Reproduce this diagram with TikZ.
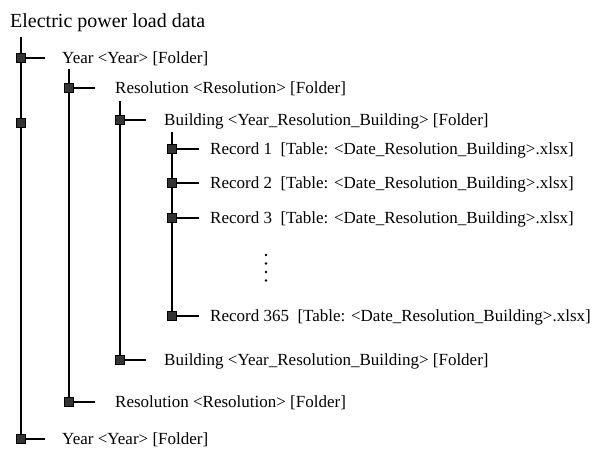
\documentclass[tikz,border=0pt]{standalone}
\usepackage{fontspec}
\setmainfont{Liberation Serif}
\usetikzlibrary{backgrounds}

\tikzset{
  box/.style={draw=black, fill=black!80, line width=0.6pt, minimum size=9.5pt, inner sep=0pt},
  trunk/.style={line width=2.8pt},
  stub/.style={line width=2pt},
  lbl/.style={anchor=base west, inner sep=0pt, font=\fontsize{17}{20}\selectfont},
}

\begin{document}
\begin{tikzpicture}[x=1pt,y=-1pt]
        \useasboundingbox (0,0) rectangle (593,448);

        % === TITLE ===
        \node[anchor=base west, inner sep=0pt, font=\fontsize{20}{24}\selectfont] (title) at (10,27.5) {Electric power load data};

        % === YEAR ===
        \coordinate (year-top) at (21,37);
        \node[box] (year1) at (21,58) {};
        \node[box] (year-mid) at (21,123) {};
        \node[box] (year2) at (21,439) {};
        \node[lbl] (year1-txt) at (62,63.5) {Year \textless Year\textgreater\ [Folder]};
        \node[lbl] (year2-txt) at (62,444.5) {Year \textless Year\textgreater\ [Folder]};
        \draw[stub, shorten >=17pt] (year1.east) -- (year1.east -| year1-txt.west);
        \draw[stub, shorten >=17pt] (year2.east) -- (year2.east -| year2-txt.west);

        % === RESOLUTION ===
        \coordinate (res-top) at (69,69);
        \node[box] (res1) at (69,88) {};
        \node[box] (res2) at (69,402) {};
        \node[lbl] (res1-txt) at (115,93.5) {Resolution \textless Resolution\textgreater\ [Folder]};
        \node[lbl] (res2-txt) at (115,407.5) {Resolution \textless Resolution\textgreater\ [Folder]};
        \draw[stub, shorten >=20pt] (res1.east) -- (res1.east -| res1-txt.west);
        \draw[stub, shorten >=20pt] (res2.east) -- (res2.east -| res2-txt.west);

        % === BUILDING ===
        \coordinate (bld-top) at (120,101);
        \node[box] (bld1) at (120,120) {};
        \node[box] (bld2) at (120,360) {};
        \node[lbl] (bld1-txt) at (164,125.5) {Building \textless Year\_Resolution\_Building\textgreater\ [Folder]};
        \node[lbl] (bld2-txt) at (164,365.5) {Building \textless Year\_Resolution\_Building\textgreater\ [Folder]};
        \draw[stub, shorten >=18pt] (bld1.east) -- (bld1.east -| bld1-txt.west);
        \draw[stub, shorten >=18pt] (bld2.east) -- (bld2.east -| bld2-txt.west);

        % === RECORDS ===
        \coordinate (rec-top) at (172,132);
        \node[box] (rec1) at (172,149) {};
        \node[box] (rec2) at (172,183) {};
        \node[box] (rec3) at (172,218) {};
        \node[box] (rec365) at (172,316) {};
        \node[lbl] (rec1-txt) at (210,154.5) {Record 1\ \ [Table: \textless Date\_Resolution\_Building\textgreater.xlsx]};
        \node[lbl] (rec2-txt) at (210,188.5) {Record 2\ \ [Table: \textless Date\_Resolution\_Building\textgreater.xlsx]};
        \node[lbl] (rec3-txt) at (210,223.5) {Record 3\ \ [Table: \textless Date\_Resolution\_Building\textgreater.xlsx]};
        \node[lbl] (rec365-txt) at (210,321.5) {Record 365\ \ [Table: \textless Date\_Resolution\_Building\textgreater.xlsx]};
        \draw[stub, shorten >=11pt] (rec1.east) -- (rec1.east -| rec1-txt.west);
        \draw[stub, shorten >=11pt] (rec2.east) -- (rec2.east -| rec2-txt.west);
        \draw[stub, shorten >=11pt] (rec3.east) -- (rec3.east -| rec3-txt.west);
        \draw[stub, shorten >=11pt] (rec365.east) -- (rec365.east -| rec365-txt.west);

        % === DOTS ===
        \foreach \d in {255,263.5,272,280.5}
            \fill (266,\d) circle (1.4pt);

        % === TRUNKS ===
        \begin{scope}[on background layer]
            \draw[trunk] (year-top) -- (year2.center);
            \draw[trunk] (res-top) -- (res2.center);
            \draw[trunk] (bld-top) -- (bld2.center);
            \draw[trunk] (rec-top) -- (rec365.center);
        \end{scope}

    \end{tikzpicture}
\end{document}
